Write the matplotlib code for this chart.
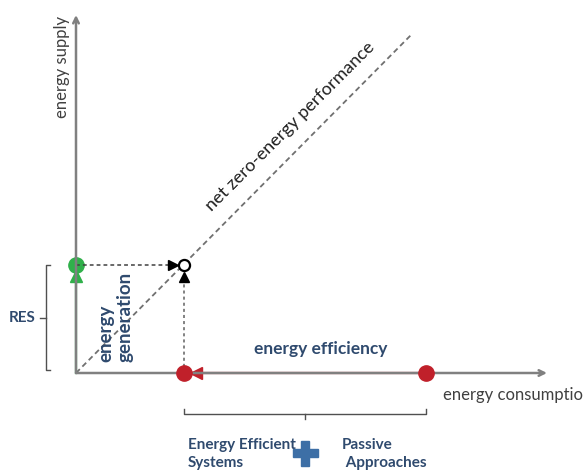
import matplotlib
matplotlib.use("Agg")
import matplotlib.pyplot as plt

# ---- data (in diagram units, origin at axes crossing) ----
generation = 108           # RES supply level (green point)
consumption_before = 350   # consumption before efficiency (right red point)
consumption_after = 108    # consumption after efficiency (left red point)
diag_end = [335, 338]      # end of net zero-energy line
yaxis_top = 358
xaxis_end = 471

labels = {
    "supply": "energy supply",
    "consumption": "energy consumption",
    "nzeb": "net zero-energy performance",
    "efficiency": "energy efficiency",
    "generation": "energy\ngeneration",
    "res": "RES",
    "systems": "Energy Efficient\nSystems",
    "passive": "Passive\n Approaches",
}

BLUE = "#2f4a6e"
GREY = "#808080"
TXT = "#404040"
GREEN = "#2fb04a"
RED = "#c0202a"

plt.rcParams['font.family'] = ['Lato', 'DejaVu Sans']

fig = plt.figure(figsize=(5.83, 4.71), dpi=100)
ax = fig.add_axes([0, 0, 1, 1])
ax.set_xlim(-76, 507)
ax.set_ylim(-98, 373)
ax.axis("off")

# axes with arrows
ax.annotate("", xy=(0, yaxis_top), xytext=(0, 0),
            arrowprops=dict(arrowstyle="->", color=GREY, lw=1.8, shrinkA=0, shrinkB=0))
ax.annotate("", xy=(xaxis_end, 0), xytext=(0, 0),
            arrowprops=dict(arrowstyle="->", color=GREY, lw=1.8, shrinkA=0, shrinkB=0))

# diagonal
ax.plot([0, diag_end[0]], [0, diag_end[1]], ls=(0, (3, 2)), color="#707070", lw=1.3)

# green vertical
ax.plot([0, 0], [0, generation], color=GREEN, lw=1.6)
ax.plot([0], [generation - 11], marker="^", ms=8, color=GREEN)
ax.plot([0], [generation], marker="o", ms=11, color=GREEN)

# red horizontal
ax.plot([consumption_after, consumption_before], [0, 0], color=RED, lw=1.6)
ax.plot([consumption_after + 12], [0], marker="<", ms=8, color=RED)
ax.plot([consumption_after], [0], marker="o", ms=11, color=RED, zorder=5)
ax.plot([consumption_before], [0], marker="o", ms=11, color=RED, zorder=5)

# dotted guides
ax.plot([0, consumption_after - 12], [generation, generation], ls=(0, (2.5, 2)), color="#404040", lw=1.1)
ax.plot([consumption_after, consumption_after], [0, generation - 14], ls=(0, (2, 2)), color="#606060", lw=1.1)
ax.plot([consumption_after - 11], [generation], marker=">", ms=7, color="black")
ax.plot([consumption_after], [generation - 12], marker="^", ms=7, color="black")
ax.plot([consumption_after], [generation], marker="o", ms=8, mfc="white", mec="black", mew=1.6, zorder=6)

# texts
ax.text(-14, yaxis_top - 1, labels["supply"], rotation=90, ha="center", va="top",
        fontsize=12, color=TXT)
ax.text(xaxis_end - 104, -22, labels["consumption"], ha="left", va="center",
        fontsize=12, color=TXT)
ax.text(214, 247, labels["nzeb"], rotation=45, ha="center", va="center",
        fontsize=13, color="#202020", rotation_mode="anchor")
ax.text(245, 24, labels["efficiency"], ha="center", va="center",
        fontsize=12.5, color=BLUE, fontweight="bold")
ax.text(39, 11, labels["generation"], rotation=90, ha="center", va="bottom",
        multialignment="left", fontsize=13.5, color=BLUE, fontweight="bold",
        linespacing=1.15)
ax.text(-41, 55, labels["res"], ha="right", va="center", fontsize=11, color=BLUE, fontweight="bold")

# left bracket
ax.plot([-26, -30, -30, -26], [generation, generation, 3, 3], color="#505050", lw=1)
ax.plot([-30, -36], [55, 55], color="#505050", lw=1)

# bottom bracket
by = -41
ax.plot([consumption_after, consumption_after, consumption_before, consumption_before],
        [by + 5, by, by, by + 5], color="#505050", lw=1)
mid = (consumption_after + consumption_before) / 2
ax.plot([mid, mid], [by, by - 5], color="#505050", lw=1)

ax.text(consumption_after + 4, -81, labels["systems"], ha="left", va="center",
        fontsize=11, color=BLUE, fontweight="bold", linespacing=1.45)
ax.text(consumption_after + 158, -81, labels["passive"], ha="left", va="center",
        fontsize=11, color=BLUE, fontweight="bold", linespacing=1.45)
ax.plot([mid], [-80], marker="P", ms=18, color="#3d6fa6")

fig.savefig("out.png", dpi=100)
